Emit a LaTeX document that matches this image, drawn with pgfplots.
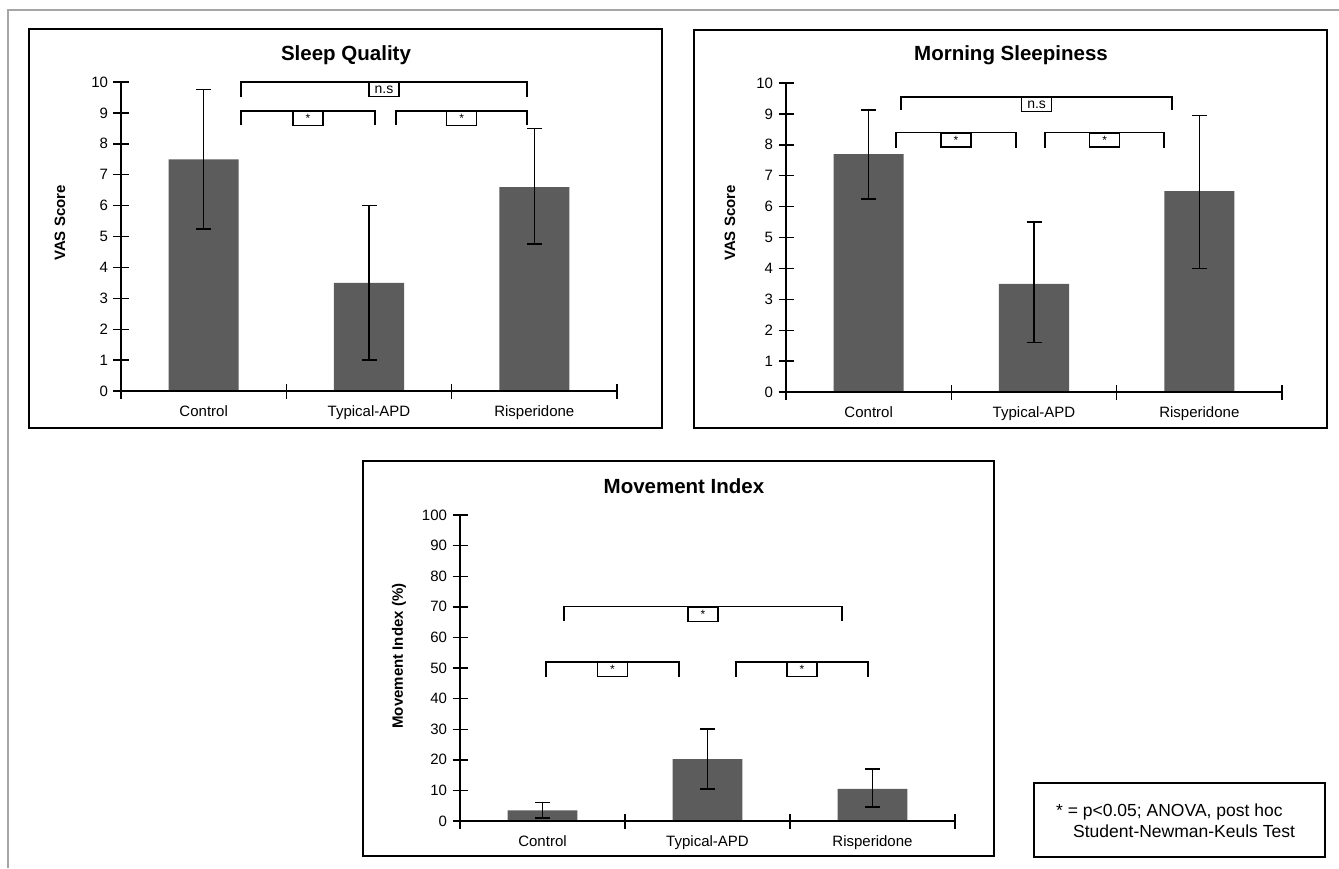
\documentclass[border=0pt]{standalone}
\usepackage{fontspec}
\setmainfont{Liberation Sans}
\usepackage{pgfplots}
\pgfplotsset{compat=1.18}
\definecolor{bargray}{gray}{0.36}
\pgfplotsset{panel/.style={
  scale only axis, anchor=south west, clip=false, axis on top,
  axis x line=bottom, axis y line=left,
  axis line style={-, line width=1.6pt, black},
  xmin=-0.5, xmax=2.5, ymin=0,
  xtick={-0.5,0.5,1.5,2.5}, xticklabels={},
  extra x ticks={0,1,2}, extra x tick labels={Control,Typical-APD,Risperidone},
  extra x tick style={tick style={draw=none}},
  xticklabel style={yshift=-4pt},
  yticklabel style={xshift=-2pt},
  tick align=center, major tick length=15pt, tick style={line width=1.4pt, black},
  ticklabel style={font=\fontsize{15}{18}\selectfont},
  /pgf/number format/assume math mode=true,
  minor tick num=0,
},
barstyle/.style={ybar, bar width=0.424, fill=bargray, draw=none,
  error bars/.cd, y dir=both, y explicit,
  error bar style={line width=1.5pt, black},
  error mark options={rotate=90, line width=1.5pt, black, mark size=7.5pt}}
}
% bracket: x1, x2, ytop, ylow, xcenter, label
\newcommand{\brk}[6]{%
  \draw[line width=1.3pt] (axis cs:#1,#4) |- (axis cs:#2,#3) -- (axis cs:#2,#4);
  \node[draw, line width=1.2pt, fill=white, anchor=north, minimum width=30pt, minimum height=14pt, inner sep=0pt, font=\fontsize{14}{14}\selectfont] at (axis cs:#5,#3) {#6};}
\newcommand{\st}{\raisebox{-3pt}{\fontsize{12}{12}\selectfont *}}
\begin{document}
\begin{tikzpicture}
\useasboundingbox (0,0) rectangle (1339pt,-868pt);
\draw[gray!70, line width=1.2pt] (8pt,-868pt) -- (8pt,-10pt) -- (1339pt,-10pt);
% frames
\draw[line width=2.6pt] (29pt,-29pt) rectangle (662pt,-428pt);
\draw[line width=2.6pt] (694pt,-30pt) rectangle (1327pt,-428pt);
\draw[line width=2.6pt] (363pt,-461pt) rectangle (994pt,-856pt);
\draw[line width=2.6pt] (1034pt,-783pt) rectangle (1325pt,-857pt);
% titles and labels
\node[font=\bfseries\fontsize{20.5}{24}\selectfont] at (346pt,-55pt) {Sleep Quality};
\node[font=\bfseries\fontsize{20.5}{24}\selectfont] at (1011pt,-55pt) {Morning Sleepiness};
\node[font=\bfseries\fontsize{20.5}{24}\selectfont] at (684pt,-486pt) {Movement Index};
\node[rotate=90, font=\bfseries\fontsize{15}{18}\selectfont] at (60pt,-223pt) {VAS Score};
\node[rotate=90, font=\bfseries\fontsize{15}{18}\selectfont] at (730pt,-223pt) {VAS Score};
\node[rotate=90, font=\bfseries\fontsize{15}{18}\selectfont] at (399pt,-656pt) {Movement Index (\%)};
\node[anchor=base west, inner sep=0pt, font=\fontsize{17.5}{20}\selectfont] at (1056pt,-816pt) {* = p<0.05; ANOVA, post hoc};
\node[anchor=base west, inner sep=0pt, font=\fontsize{17.5}{20}\selectfont] at (1073pt,-837pt) {Student-Newman-Keuls Test};

% Panel 1
\begin{axis}[panel, at={(121pt,-391pt)}, width=496pt, height=309pt,
  ymax=10, ytick={0,1,...,10}]
\addplot[barstyle] coordinates {
 (0,7.5) += (0,2.25) -= (0,2.25)
 (1,3.5) += (0,2.5) -= (0,2.5)
 (2,6.6) += (0,1.9) -= (0,1.85)};
\brk{0.226}{1.956}{10}{9.5}{1.091}{n.s}
\brk{0.226}{1.036}{9.06}{8.6}{0.631}{\st}
\brk{1.163}{1.956}{9.06}{8.6}{1.560}{\st}
\end{axis}

% Panel 2
\begin{axis}[panel, at={(786pt,-392pt)}, width=496pt, height=309pt,
  ymax=10, ytick={0,1,...,10}]
\addplot[barstyle] coordinates {
 (0,7.7) += (0,1.42) -= (0,1.45)
 (1,3.5) += (0,2.0) -= (0,1.9)
 (2,6.5) += (0,2.45) -= (0,2.5)};
\brk{0.196}{1.835}{9.55}{9.13}{1.016}{n.s}
\brk{0.165}{0.891}{8.4}{7.9}{0.528}{\st}
\brk{1.067}{1.786}{8.4}{7.9}{1.427}{\st}
\end{axis}

% Panel 3
\begin{axis}[panel, at={(460pt,-821pt)}, width=495pt, height=306pt,
  ymax=100, ytick={0,10,...,100}]
\addplot[barstyle] coordinates {
 (0,3.5) += (0,2.5) -= (0,2.5)
 (1,20.2) += (0,9.8) -= (0,9.8)
 (2,10.5) += (0,6.5) -= (0,6.0)};
\brk{0.130}{1.815}{70}{65.2}{0.973}{\st}
\brk{0.021}{0.827}{52}{47.2}{0.424}{\st}
\brk{1.173}{1.973}{52}{47.2}{1.573}{\st}
\end{axis}
\end{tikzpicture}
\end{document}
